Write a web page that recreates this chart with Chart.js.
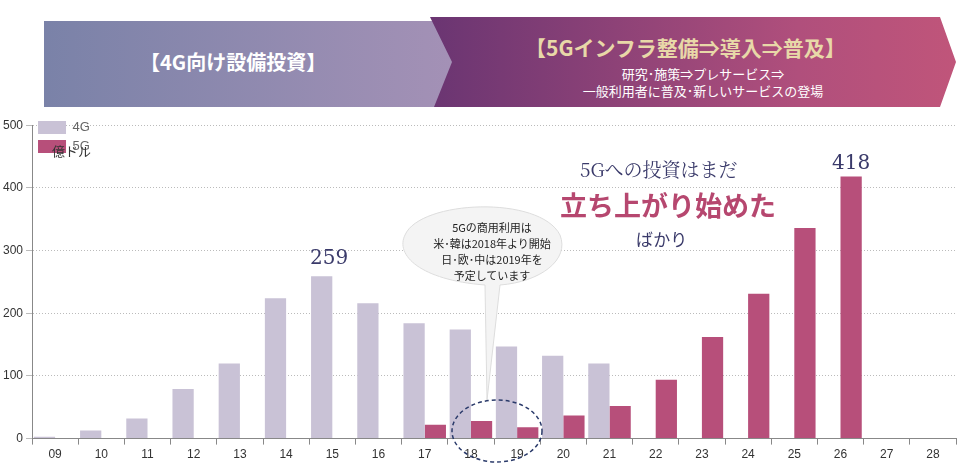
<!DOCTYPE html>
<html><head><meta charset="utf-8">
<script src="https://cdn.jsdelivr.net/npm/chart.js@4"></script>
<style>
body{margin:0;width:962px;height:465px;background:#fff;font-family:"Noto Sans CJK JP","Noto Sans",sans-serif;position:relative;overflow:hidden}
#wrap{position:absolute;left:0;top:115px;width:962px;height:350px}
.ov{position:absolute;white-space:nowrap}
#b1{position:absolute;left:44px;top:21px;width:410px;height:86px;background:linear-gradient(90deg,#7a82a8,#a491b6);clip-path:polygon(0 0,395px 0,410px 43px,395px 86px,0 86px);box-shadow:0 0 6px #ccc}
#b2{position:absolute;left:430px;top:17px;width:526px;height:90px;background:linear-gradient(90deg,#6a3572,#b04f7c 70%,#c0557a);clip-path:polygon(0 0,510px 0,526px 45px,510px 90px,4px 90px,22px 45px)}
</style></head><body>
<div id="b1"></div><div id="b2"></div>
<div class="ov" style="left:140px;top:47px;color:#fff;font-size:20px;font-weight:bold;">【4G向け設備投資】</div>
<div class="ov" style="left:525px;top:32px;color:#e8d8a8;font-size:21px;font-weight:bold;">【5Gインフラ整備⇒導入⇒普及】</div>
<div class="ov" style="left:0;width:1406px;top:65px;color:#fff;font-size:13px;text-align:center;line-height:17px">研究･施策⇒プレサービス⇒<br>一般利用者に普及･新しいサービスの登場</div>
<div id="wrap"><canvas id="c"></canvas></div>
<div class="ov" style="left:52px;top:141px;font-size:13px;color:#333">億ドル</div>
<svg class="ov" style="left:0;top:0" width="962" height="465">
<path d="M485,285 C420,280 395,255 405,235 C420,200 540,195 560,235 C570,260 540,282 500,285 L487,400 Z" fill="#f4f4f4" stroke="#ddd"/>
<ellipse cx="497" cy="431" rx="45" ry="31" fill="none" stroke="#2a3a6a" stroke-width="1.5" stroke-dasharray="4,3"/>
</svg>
<div class="ov" style="left:412px;top:219px;width:160px;text-align:center;font-size:11px;line-height:16px;color:#222">5Gの商用利用は<br>米･韓は2018年より開始<br>日･欧･中は2019年を<br>予定しています</div>
<div class="ov" style="left:580px;top:155px;font-size:19px;color:#3a3a6a;font-family:'Noto Serif CJK JP',serif">5Gへの投資はまだ</div>
<div class="ov" style="left:560px;top:185px;font-size:27px;color:#b6476f;font-weight:bold">立ち上がり始めた</div>
<div class="ov" style="left:636px;top:226px;font-size:17px;color:#3a3a6a">ばかり</div>
<div class="ov" style="left:310px;top:245px;font-size:20px;color:#3a3a6a;font-family:'DejaVu Serif',serif">259</div>
<div class="ov" style="left:832px;top:150px;font-size:20px;color:#3a3a6a;font-family:'DejaVu Serif',serif">418</div>
<script>
const categories=["09","10","11","12","13","14","15","16","17","18","19","20","21","22","23","24","25","26","27","28"];
const values4G=[3,13,32,79,120,224,259,216,184,174,147,132,120,0,0,0,0,0,0,0];
const values5G=[0,0,0,0,0,0,0,0,22,28,18,37,52,94,162,231,336,418,0,0];
const yTicks=[0,100,200,300,400,500];
new Chart(document.getElementById('c'),{type:'bar',
data:{labels:categories,datasets:[
{label:'4G',data:values4G,backgroundColor:'#c9c2d6'},
{label:'5G',data:values5G,backgroundColor:'#b74f7a'}]},
options:{responsive:true,maintainAspectRatio:false,animation:false,
layout:{padding:{left:0,right:6,top:4,bottom:0}},
datasets:{bar:{barPercentage:1,categoryPercentage:0.92}},
plugins:{legend:{position:'chartArea',align:'start',display:true,labels:{boxWidth:28,boxHeight:13,color:'#666',font:{size:13},padding:6}},tooltip:{enabled:false}},
scales:{x:{grid:{display:true,drawOnChartArea:false,tickLength:6,color:'#888'},border:{color:'#888'},ticks:{color:'#333',font:{size:12}}},
y:{min:0,max:500,afterBuildTicks:s=>{s.ticks=yTicks.map(v=>({value:v}))},grid:{color:'#bbb',tickLength:6,drawTicks:true},border:{color:'#888',dash:[1,2]},ticks:{color:'#333',font:{size:12}}}}},
plugins:[{id:'lg',beforeInit(c){}}]
});
</script>
</body></html>
